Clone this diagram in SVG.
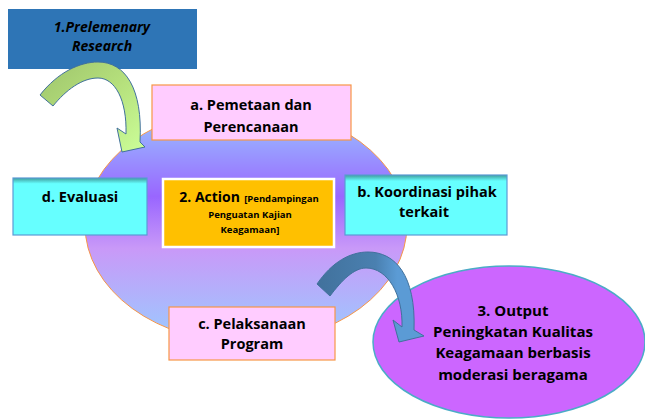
<svg xmlns="http://www.w3.org/2000/svg" width="645" height="419" viewBox="0 0 645 419">
<defs>
<linearGradient id="gMain" x1="0" y1="0" x2="0" y2="1">
<stop offset="0" stop-color="#99ccff"/>
<stop offset="0.38" stop-color="#9966ff"/>
<stop offset="0.6" stop-color="#c999f8"/>
<stop offset="1" stop-color="#99ccff"/>
</linearGradient>
<linearGradient id="gCyan" x1="0" y1="0" x2="0" y2="1">
<stop offset="0" stop-color="#3f9c9c"/>
<stop offset="0.1" stop-color="#66ffff"/>
<stop offset="1" stop-color="#66ffff"/>
</linearGradient>
<linearGradient id="gGreen" x1="0" y1="0" x2="1" y2="1">
<stop offset="0" stop-color="#9ec46c"/>
<stop offset="0.5" stop-color="#b5e07c"/>
<stop offset="1" stop-color="#ccff99"/>
</linearGradient>
<linearGradient id="gBlue" x1="0" y1="0" x2="1" y2="0">
<stop offset="0" stop-color="#41719c"/>
<stop offset="0.55" stop-color="#4a80b0"/>
<stop offset="0.75" stop-color="#5b9bd5"/>
<stop offset="1" stop-color="#5b9bd5"/>
</linearGradient>
<style>
text { font-family: "Open Sans", "Liberation Sans", sans-serif; font-weight: bold; fill: #000; text-anchor: middle; }
.pink { fill: #ffccff; stroke: #f79646; stroke-width: 1.2; }
.cyan { fill: url(#gCyan); stroke: #5b9bd5; stroke-width: 1.2; }
.t15 { font-size: 14.5px; }
.t16 { font-size: 15px; }
.ts { font-size: 9.5px; }
</style>
</defs>
<g id="main-circle">
<ellipse cx="246" cy="225" rx="161" ry="118" fill="url(#gMain)" stroke="#f79646" stroke-width="1"/>
</g>
<g id="output">
<ellipse cx="509" cy="342" rx="136" ry="76" fill="#cc66ff" stroke="#4bacc6" stroke-width="1.5"/>
<text class="t16" x="513" y="316">3. Output</text>
<text class="t16" x="513" y="337">Peningkatan Kualitas</text>
<text class="t16" x="513" y="358">Keagamaan berbasis</text>
<text class="t16" x="513" y="380">moderasi beragama</text>
</g>
<g id="prelim">
<rect x="8" y="9" width="189" height="60" fill="#2e75b6"/>
<text x="102" y="32" style="font-size:14px;font-style:italic">1.Prelemenary</text>
<text x="102" y="51" style="font-size:14px;font-style:italic">Research</text>
</g>
<g id="connectors">
<path d="M40,95 C58,72 80,62 98,62 C125,62 143,88 140,142 L145,147 L122,152 L117,128 L126,134 C127,100 115,78 98,78 C82,78 66,90 53,106 Z" fill="url(#gGreen)" stroke="#41719c" stroke-width="1"/>
<path d="M317,284 C332,262 350,252 368,252 C395,252 416,275 414,330 L424,336 L399,342 L393,320 L402,327 C403,295 388,268 366,268 C354,268 342,280 330,296 Z" fill="url(#gBlue)" stroke="#41719c" stroke-width="1"/>
</g>
<g id="a">
<rect class="pink" x="152" y="85" width="199" height="55"/>
<text class="t15" x="251" y="110">a. Pemetaan dan</text>
<text class="t15" x="251" y="132">Perencanaan</text>
</g>
<g id="d">
<rect class="cyan" x="13" y="178" width="134" height="57"/>
<text class="t15" x="80" y="202">d. Evaluasi</text>
</g>
<g id="action">
<rect x="163" y="179" width="171" height="68" fill="#ffc000" stroke="#ffffff" stroke-width="2.5"/>
<text x="249" y="202"><tspan style="font-size:14px">2. Action</tspan> <tspan class="ts">[Pendampingan</tspan></text>
<text class="ts" x="250" y="218">Penguatan Kajian</text>
<text class="ts" x="250" y="233">Keagamaan]</text>
</g>
<g id="b">
<rect class="cyan" x="345" y="175" width="162" height="60"/>
<text class="t15" x="427" y="197">b. Koordinasi pihak</text>
<text class="t15" x="424" y="217">terkait</text>
</g>
<g id="c">
<rect class="pink" x="169" y="307" width="166" height="53"/>
<text class="t15" x="252" y="329">c. Pelaksanaan</text>
<text class="t15" x="252" y="349">Program</text>
</g>
</svg>
